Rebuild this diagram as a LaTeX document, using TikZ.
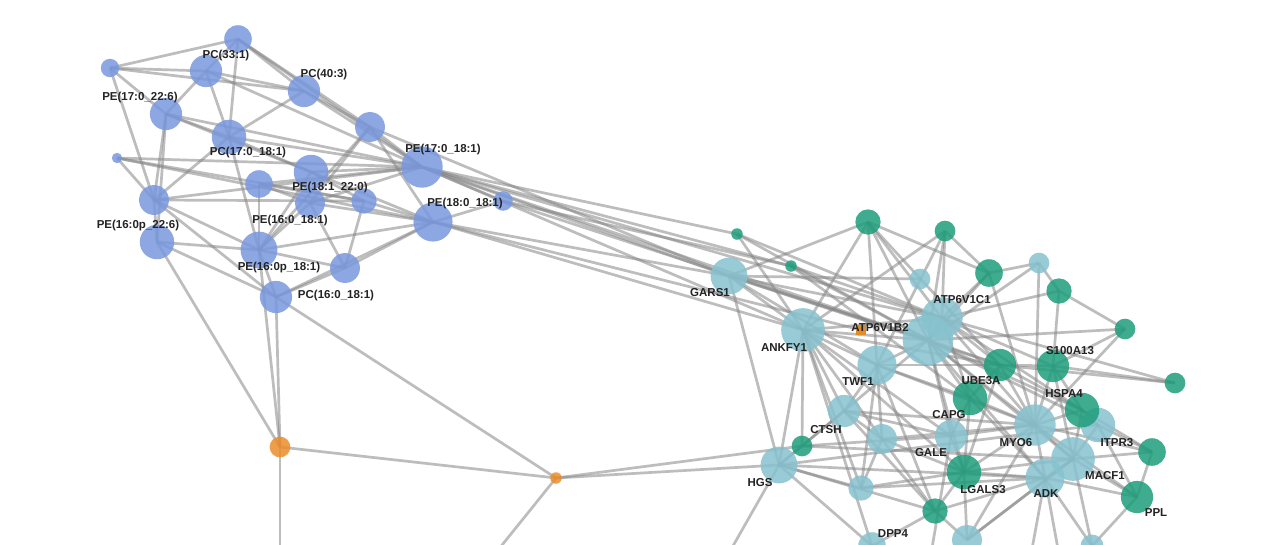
\documentclass[tikz,border=0pt]{standalone}
\usepackage{fontspec}
\setmainfont{Liberation Sans}
\begin{document}
\begin{tikzpicture}[x=1pt,y=-1pt,
  edge/.style={draw={rgb,255:red,135;green,135;blue,135},draw opacity=0.55,line width=2.7pt},
  nd/.style={circle,inner sep=0pt,minimum size=1.15*#1,fill opacity=0.85},
  lip/.style={nd=#1,fill={rgb,255:red,120;green,152;blue,222}},
  grn/.style={nd=#1,fill={rgb,255:red,30;green,158;blue,124}},
  lbl/.style={nd=#1,fill={rgb,255:red,134;green,194;blue,206}},
  org/.style={nd=#1,fill={rgb,255:red,236;green,140;blue,40}},
  lab/.style={font=\fontsize{11.5}{13}\selectfont\bfseries,text={rgb,255:red,35;green,35;blue,35},inner sep=0pt}]
\useasboundingbox (0,0) rectangle (1280,544);
\fill[white] (0,0) rectangle (1280,544);
% lipid coordinates
\coordinate (A) at (238,39); \coordinate (B) at (206,71); \coordinate (C) at (110,68);
\coordinate (D) at (304,91); \coordinate (E) at (166,114); \coordinate (F) at (229,137);
\coordinate (G) at (370,127); \coordinate (H) at (117,158); \coordinate (I) at (422,167);
\coordinate (J) at (311,172); \coordinate (K) at (259,184); \coordinate (L) at (310,203);
\coordinate (M) at (364,201); \coordinate (N) at (503,201); \coordinate (O) at (154,200);
\coordinate (P) at (433,222); \coordinate (Pb) at (157,242); \coordinate (Q) at (259,250);
\coordinate (R) at (345,268); \coordinate (S) at (276,297);
\coordinate (O1) at (280,447); \coordinate (O2) at (556,478);
% protein coordinates
\coordinate (g1) at (868,222); \coordinate (g2) at (945,231); \coordinate (gs1) at (737,234);
\coordinate (gs2) at (791,266); \coordinate (gars) at (729,276); \coordinate (b1) at (920,279);
\coordinate (g3) at (989,273); \coordinate (b2) at (1039,263); \coordinate (g4) at (1059,291);
\coordinate (g5) at (1125,329); \coordinate (c1) at (942,318); \coordinate (ank) at (803,330);
\coordinate (b2o) at (861,330); \coordinate (big) at (928,340); \coordinate (twf) at (877,365);
\coordinate (ube) at (1000,365); \coordinate (s100) at (1053,366); \coordinate (g6) at (1175,383);
\coordinate (capg) at (970,398); \coordinate (hspa) at (1082,410); \coordinate (itpr) at (1098,425);
\coordinate (ctsh) at (844,411); \coordinate (myo) at (1035,425); \coordinate (g7) at (1152,452);
\coordinate (gale) at (951,436); \coordinate (b3) at (882,439); \coordinate (g8) at (802,446);
\coordinate (hgs) at (779,465); \coordinate (macf) at (1073,459); \coordinate (adk) at (1045,478);
\coordinate (lgal) at (964,472); \coordinate (ppl) at (1137,497); \coordinate (b4) at (861,488);
\coordinate (g9) at (935,511); \coordinate (dpp) at (872,546); \coordinate (b5) at (967,540);
\coordinate (b6) at (1092,546);
\coordinate (e1) at (280,560); \coordinate (e2) at (490,560); \coordinate (e3) at (725,560);
\coordinate (e4) at (1030,560); \coordinate (e5) at (1060,560); \coordinate (e6) at (930,560);
% edges
\foreach \a/\b in {C/A,C/B,C/E,C/D,C/O,A/B,A/D,A/G,A/I,A/F,B/D,B/E,B/F,B/I,D/F,D/G,D/I,E/F,E/O,E/I,E/J,E/Pb,F/J,F/Q,F/O,F/I,G/I,G/L,G/P,G/Q,H/I,H/O,H/P,H/M,O/Pb,O/M,O/I,O/Q,O/S,Pb/Q,Pb/S,Pb/O1,Q/J,Q/L,Q/P,Q/R,Q/S,Q/K,J/I,J/P,J/M,K/I,K/L,L/P,L/R,L/I,M/P,M/R,P/R,P/N,I/N,R/S,S/P,K/M,
 I/gars,I/gs1,I/ank,I/c1,I/big,G/gars,N/gs2,P/gars,P/ank,P/b2o,N/big,I/gs2,
 O1/Q,O1/S,O1/O2,O1/e1,O2/S,O2/hgs,O2/g8,O2/e2,
 gars/g1,gars/ank,gars/c1,gars/big,gars/hgs,gars/twf,gars/b1,gars/ube,gs1/c1,gs1/big,gs1/ank,gs2/big,gs2/c1,gs2/capg,
 g1/ank,g1/big,g1/g3,g1/twf,g1/c1,g1/ube,g2/c1,g2/g3,g2/big,g2/ank,g2/twf,g3/b2,g3/c1,g3/big,g3/myo,
 b2/g4,b2/myo,b2/big,g4/g5,g4/c1,g4/s100,g5/big,g5/s100,g5/myo,
 c1/big,c1/ank,c1/ube,c1/s100,c1/hspa,c1/myo,c1/capg,c1/g6,
 big/ank,big/twf,big/ube,big/capg,big/myo,big/hspa,big/itpr,big/adk,big/macf,big/ctsh,big/gale,big/lgal,
 ank/twf,ank/ctsh,ank/hgs,ank/g8,ank/b3,ank/gale,ank/lgal,ank/b4,ank/dpp,ank/ube,
 twf/ctsh,twf/b3,twf/capg,twf/myo,twf/g9,twf/ube,twf/b4,
 ube/s100,ube/myo,ube/hspa,ube/capg,ube/lgal,ube/g6,s100/g6,s100/hspa,s100/myo,s100/macf,
 capg/myo,capg/gale,capg/lgal,capg/adk,hspa/itpr,hspa/myo,hspa/macf,hspa/g7,itpr/g7,itpr/ppl,itpr/macf,
 ctsh/g8,ctsh/hgs,ctsh/b3,ctsh/gale,ctsh/myo,ctsh/g9,myo/macf,myo/adk,myo/gale,myo/g7,myo/ppl,myo/lgal,
 g8/hgs,g8/gale,g8/macf,hgs/b4,hgs/adk,hgs/g9,hgs/dpp,hgs/e3,hgs/itpr,b3/g9,b3/lgal,b3/myo,b3/b4,
 macf/adk,macf/ppl,macf/g7,macf/lgal,macf/b5,adk/lgal,adk/ppl,adk/e4,adk/e5,adk/b6,macf/b6,
 lgal/b4,lgal/g9,lgal/b5,lgal/gale,b4/adk,g9/dpp,g9/b5,g9/adk,b5/macf,b5/myo,g7/ppl,ppl/b6,gale/e6}
  \draw[edge] (\a) -- (\b);
% lipid nodes
\node[lip=24pt] (nA) at (A) {}; \node[lip=28pt] (nB) at (B) {}; \node[lip=16pt] (nC) at (C) {};
\node[lip=28pt] (nD) at (D) {}; \node[lip=28pt] (nE) at (E) {}; \node[lip=30pt] (nF) at (F) {};
\node[lip=26pt] (nG) at (G) {}; \node[lip=9pt] (nH) at (H) {}; \node[lip=36pt] (nI) at (I) {};
\node[lip=30pt] (nJ) at (J) {}; \node[lip=24pt] (nK) at (K) {}; \node[lip=26pt] (nL) at (L) {};
\node[lip=22pt] (nM) at (M) {}; \node[lip=17pt] (nN) at (N) {}; \node[lip=26pt] (nO) at (O) {};
\node[lip=34pt] (nP) at (P) {}; \node[lip=30pt] (nPb) at (Pb) {}; \node[lip=32pt] (nQ) at (Q) {};
\node[lip=26pt] (nR) at (R) {}; \node[lip=28pt] (nS) at (S) {};
\node[org=18pt] (nO1) at (O1) {}; \node[org=10pt] (nO2) at (O2) {};
% protein nodes
\node[grn=22pt] (ng1) at (g1) {}; \node[grn=18pt] (ng2) at (g2) {}; \node[grn=10pt] (ngs1) at (gs1) {};
\node[grn=10pt] (ngs2) at (gs2) {}; \node[lbl=32pt] (ngars) at (gars) {}; \node[lbl=18pt] (nb1) at (b1) {};
\node[grn=24pt] (ng3) at (g3) {}; \node[lbl=18pt] (nb2) at (b2) {}; \node[grn=22pt] (ng4) at (g4) {};
\node[grn=18pt] (ng5) at (g5) {}; \node[lbl=36pt] (nc1) at (c1) {}; \node[lbl=38pt] (nank) at (ank) {};
\node[lbl=44pt] (nbig) at (big) {};
\node[rectangle,inner sep=0pt,minimum size=10pt,fill={rgb,255:red,225;green,140;blue,40}] (nb2o) at (b2o) {};
\node[lbl=34pt] (ntwf) at (twf) {}; \node[grn=28pt] (nube) at (ube) {}; \node[grn=28pt] (ns100) at (s100) {};
\node[grn=18pt] (ng6) at (g6) {}; \node[grn=30pt] (ncapg) at (capg) {}; \node[lbl=30pt] (nitpr) at (itpr) {};
\node[grn=30pt] (nhspa) at (hspa) {};
\node[lbl=28pt] (nctsh) at (ctsh) {}; \node[lbl=36pt] (nmyo) at (myo) {}; \node[grn=24pt] (ng7) at (g7) {};
\node[lbl=28pt] (ngale) at (gale) {}; \node[lbl=26pt] (nb3) at (b3) {}; \node[grn=18pt] (ng8) at (g8) {};
\node[lbl=32pt] (nhgs) at (hgs) {}; \node[lbl=38pt] (nmacf) at (macf) {}; \node[lbl=34pt] (nadk) at (adk) {};
\node[grn=30pt] (nlgal) at (lgal) {}; \node[grn=28pt] (nppl) at (ppl) {}; \node[lbl=22pt] (nb4) at (b4) {};
\node[grn=22pt] (ng9) at (g9) {}; \node[lbl=24pt] (ndpp) at (dpp) {}; \node[lbl=26pt] (nb5) at (b5) {};
\node[lbl=20pt] (nb6) at (b6) {};
% labels
\node[lab] at (226,56) {PC(33:1)};
\node[lab] at (324,75) {PC(40:3)};
\node[lab] at (140,98) {PE(17:0\_22:6)};
\node[lab] at (248,153) {PC(17:0\_18:1)};
\node[lab] at (443,150) {PE(17:0\_18:1)};
\node[lab] at (330,188) {PE(18:1\_22:0)};
\node[lab] at (290,221) {PE(16:0\_18:1)};
\node[lab] at (465,204) {PE(18:0\_18:1)};
\node[lab] at (138,226) {PE(16:0p\_22:6)};
\node[lab] at (279,268) {PE(16:0p\_18:1)};
\node[lab] at (336,296) {PC(16:0\_18:1)};
\node[lab] at (710,293) {GARS1};
\node[lab] at (962,300) {ATP6V1C1};
\node[lab] at (880,328) {ATP6V1B2};
\node[lab] at (784,348) {ANKFY1};
\node[lab] at (858,382) {TWF1};
\node[lab] at (981,381) {UBE3A};
\node[lab] at (1070,351) {S100A13};
\node[lab] at (949,415) {CAPG};
\node[lab] at (1064,394) {HSPA4};
\node[lab] at (826,430) {CTSH};
\node[lab] at (1016,443) {MYO6};
\node[lab] at (1117,443) {ITPR3};
\node[lab] at (931,453) {GALE};
\node[lab] at (760,483) {HGS};
\node[lab] at (1105,476) {MACF1};
\node[lab] at (983,490) {LGALS3};
\node[lab] at (1046,494) {ADK};
\node[lab] at (1156,513) {PPL};
\node[lab] at (893,534) {DPP4};
\end{tikzpicture}
\end{document}
